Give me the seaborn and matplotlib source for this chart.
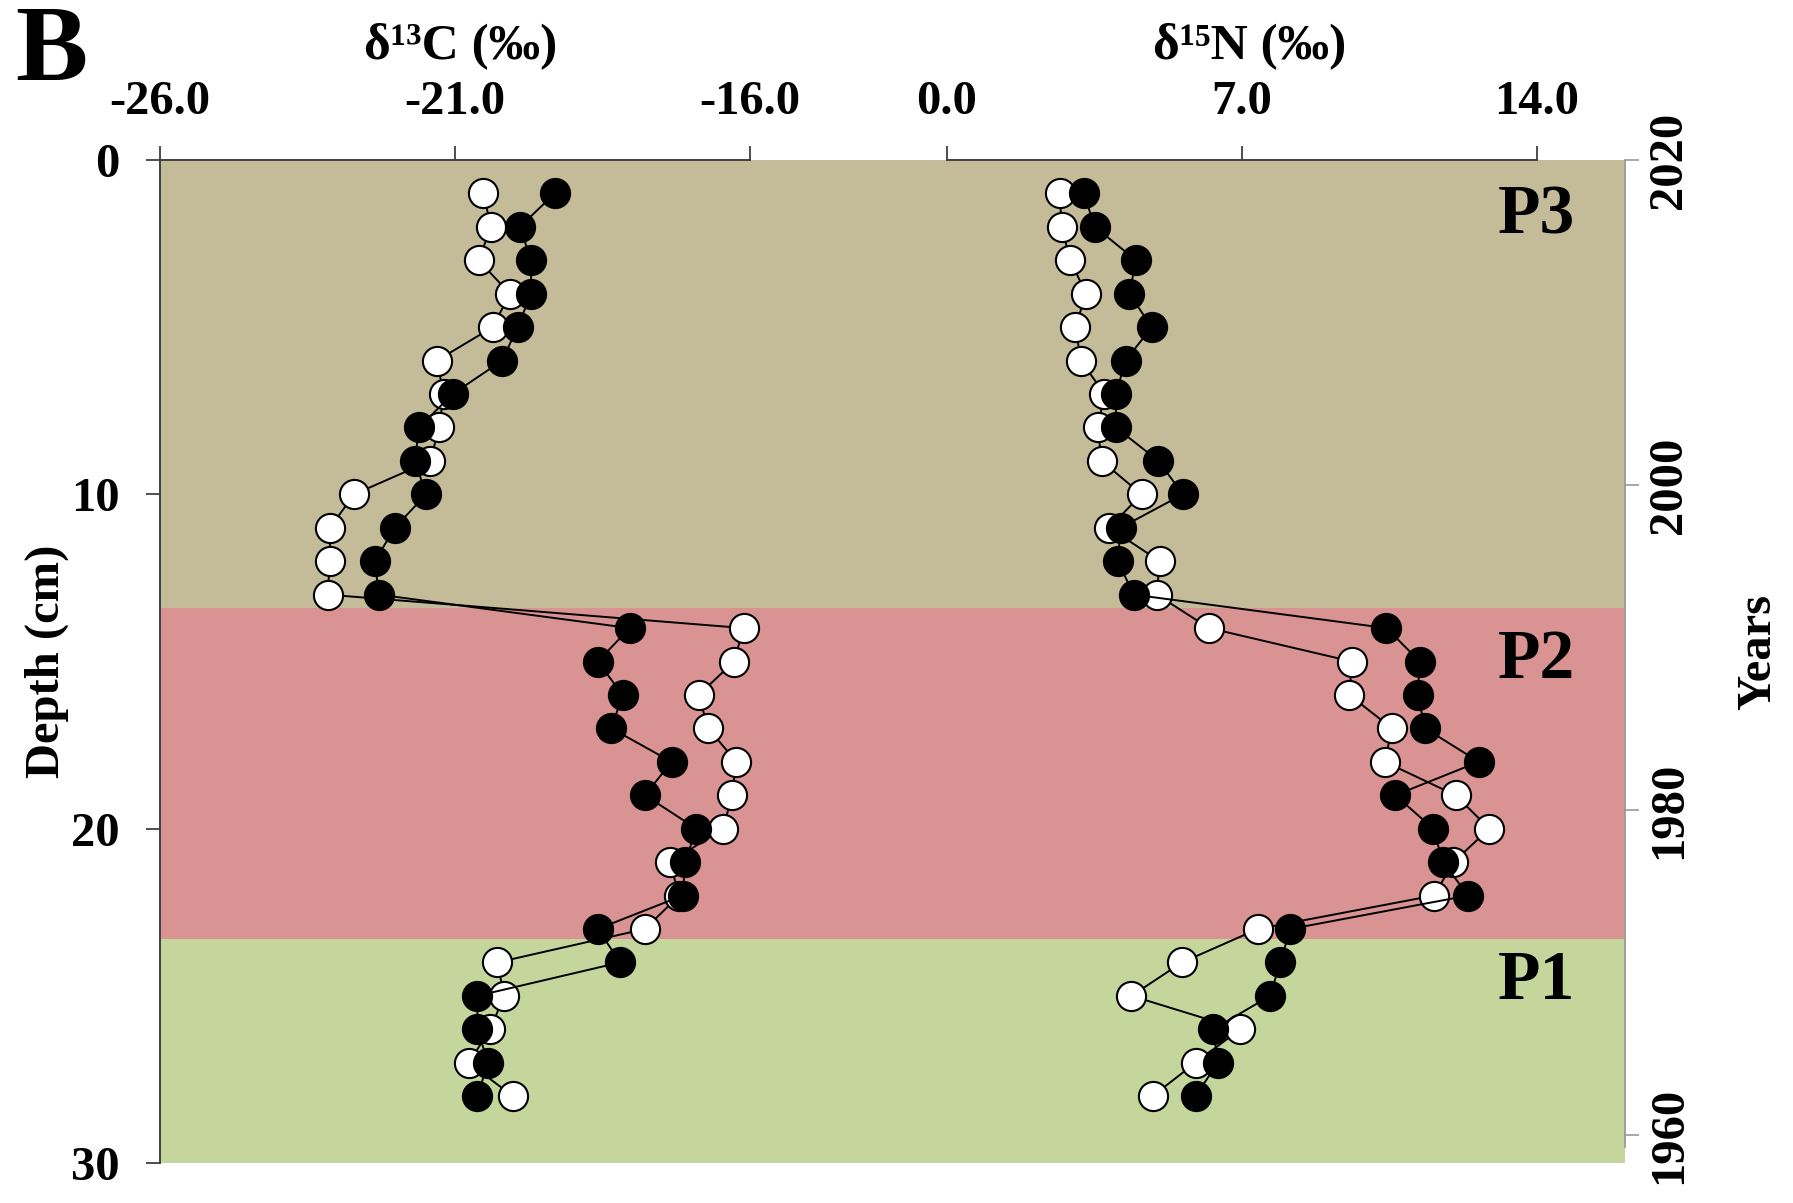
import numpy as np
import pandas as pd
import seaborn as sns
import matplotlib.pyplot as plt

# donnees
profondeur = list(range(1, 29))

d13c_noir = [-19.31, -19.90, -19.71, -19.71, -19.94, -20.20, -21.04, -21.61, -21.68, -21.49,
             -22.02, -22.36, -22.29, -18.04, -18.58, -18.16, -18.35, -17.33, -17.78, -16.91,
             -17.10, -17.14, -18.58, -18.20, -20.62, -20.62, -20.44, -20.62]
d13c_blanc = [-20.52, -20.39, -20.60, -20.07, -20.36, -21.31, -21.19, -21.27, -21.42, -22.71,
              -23.12, -23.12, -23.16, -16.11, -16.27, -16.87, -16.71, -16.23, -16.31, -16.45,
              -17.36, -17.20, -17.78, -20.28, -20.17, -20.40, -20.77, -20.02]

d15n_noir = [3.25, 3.51, 4.49, 4.33, 4.86, 4.24, 4.01, 4.01, 5.02, 5.60,
             4.12, 4.06, 4.43, 10.43, 11.22, 11.17, 11.35, 12.62, 10.64, 11.54,
             11.77, 12.37, 8.15, 7.91, 7.67, 6.32, 6.43, 5.90]
d15n_blanc = [2.68, 2.72, 2.93, 3.30, 3.05, 3.18, 3.74, 3.58, 3.67, 4.62,
              3.85, 5.05, 4.98, 6.22, 9.61, 9.55, 10.56, 10.39, 12.07, 12.87,
              12.02, 11.56, 7.38, 5.58, 4.38, 6.96, 5.90, 4.88]

# zones (profondeur en cm)
zones = ['P3', 'P2', 'P1']
zone_limites = [(0, 13.4), (13.4, 23.3), (23.3, 30)]
zone_couleurs = ['#c4bc98', '#d99393', '#c4d69b']
zone_label_y = [1.7, 15.0, 24.6]

ticks_c = [-26.0, -21.0, -16.0]
ticks_n = [0.0, 7.0, 14.0]
ticks_prof = [0, 10, 20, 30]
ticks_annees = [1960, 1980, 2000, 2020]

df = pd.DataFrame({'Depth': profondeur,
                   'C_noir': d13c_noir, 'C_blanc': d13c_blanc,
                   'N_noir': d15n_noir, 'N_blanc': d15n_blanc})

sns.set_theme(style='white')
plt.rcParams['font.family'] = ['Liberation Serif', 'DejaVu Serif']
plt.rcParams['font.weight'] = 'bold'
plt.rcParams['text.color'] = 'black'
plt.rcParams['axes.labelcolor'] = 'black'
plt.rcParams['xtick.labelcolor'] = 'black'
plt.rcParams['ytick.labelcolor'] = 'black'

gris = '#404040'
fs = 35

fig = plt.figure(figsize=(17.93, 12.03), dpi=100)
ax = fig.add_axes([160 / 1793, 1 - 1163 / 1203, 1465 / 1793, 1003 / 1203])
ax_n = ax.twiny()
ax_y = ax.twinx()

# bandes de fond
for (y0, y1), coul in zip(zone_limites, zone_couleurs):
    ax.axhspan(y0, y1, color=coul, lw=0, zorder=0)

style_blanc = dict(marker='o', markersize=21, markerfacecolor='white', markeredgecolor='black',
                   markeredgewidth=1.5, color='black', linewidth=1.4)
style_noir = dict(marker='o', markersize=21, markerfacecolor='black', markeredgecolor='black',
                  markeredgewidth=1.5, color='black', linewidth=1.4)

sns.lineplot(data=df, x='C_blanc', y='Depth', ax=ax, sort=False, estimator=None,
             orient='y', legend=False, **style_blanc)
sns.lineplot(data=df, x='C_noir', y='Depth', ax=ax, sort=False, estimator=None,
             orient='y', legend=False, **style_noir)
sns.lineplot(data=df, x='N_blanc', y='Depth', ax=ax_n, sort=False, estimator=None,
             orient='y', legend=False, **style_blanc)
sns.lineplot(data=df, x='N_noir', y='Depth', ax=ax_n, sort=False, estimator=None,
             orient='y', legend=False, **style_noir)

# echelles : meme largeur de pixel pour les deux profils
ax.set_xlim(-26, -1.17)
ax_n.set_xlim(-18.67, 16.09)
ax.set_ylim(30, 0)
ax_y.set_ylim(1958.3, 2020)

# axe du haut gauche (d13C)
ax.xaxis.tick_top()
ax.set_xticks(ticks_c)
ax.set_xticklabels([f'{t:.1f}' for t in ticks_c])
ax.xaxis.set_label_position('top')
ax.set_xlabel('δ¹³C (‰)', fontsize=37, fontweight='bold')
ax.xaxis.set_label_coords(0.205, 1.102)

ax_n.set_xticks(ticks_n)
ax_n.set_xticklabels([f'{t:.1f}' for t in ticks_n])
ax_n.set_xlabel('δ¹⁵N (‰)', fontsize=37, fontweight='bold')
ax_n.xaxis.set_label_coords(0.744, 1.102)

ax.set_yticks(ticks_prof)
ax.set_yticklabels([str(t) for t in ticks_prof])
ax.set_ylabel('Depth (cm)', fontsize=fs, fontweight='bold')
ax.yaxis.set_label_coords(-0.062, 0.5)

ax_y.set_yticks(ticks_annees)
ax_y.set_yticklabels([str(t) for t in ticks_annees])
ax_y.set_ylabel('Years', fontsize=fs, fontweight='bold', rotation=90)
ax_y.yaxis.set_label_coords(1.076, 0.51)

for a in (ax, ax_n):
    a.tick_params(axis='x', which='both', top=True, bottom=False, labeltop=True,
                  labelbottom=False, direction='out', length=10, width=1.3,
                  color=gris, pad=16, labelsize=fs, labelcolor='black')
ax.tick_params(axis='y', left=True, right=False, direction='out', length=10, width=1.3,
               color=gris, pad=19, labelsize=fs, labelcolor='black')
ax_y.tick_params(axis='y', left=False, right=True, direction='out', length=10, width=1.2,
                 color='#9a9a9a', pad=6, labelsize=fs, labelcolor='black')
for lab in ax_y.get_yticklabels():
    lab.set_rotation(90)
    lab.set_va('center')

for a in (ax, ax_n, ax_y):
    for s in a.spines.values():
        s.set_visible(False)
ax.spines['left'].set_visible(True)
ax.spines['left'].set_color(gris)
ax.spines['left'].set_linewidth(1.4)
ax.spines['top'].set_visible(True)
ax.spines['top'].set_bounds(-26, -16)
ax.spines['top'].set_color(gris)
ax.spines['top'].set_linewidth(1.4)
ax_n.spines['top'].set_visible(True)
ax_n.spines['top'].set_bounds(0, 14)
ax_n.spines['top'].set_color(gris)
ax_n.spines['top'].set_linewidth(1.4)
ax_y.spines['right'].set_visible(True)
ax_y.spines['right'].set_bounds(1959.3, 2020)
ax_y.spines['right'].set_color('#9a9a9a')
ax_y.spines['right'].set_linewidth(1.3)

ax.grid(False)
ax_n.grid(False)
ax_y.grid(False)

# etiquettes des zones
for nom, yl in zip(zones, zone_label_y):
    ax_n.text(14.0, yl, nom, fontsize=50, fontweight='bold', color='black',
              ha='center', va='center')

fig.text(51 / 1793, 1 - 54 / 1203, 'B', fontsize=78, fontweight='bold', color='black',
         ha='center', va='center')

plt.savefig('out.png', dpi=100)
